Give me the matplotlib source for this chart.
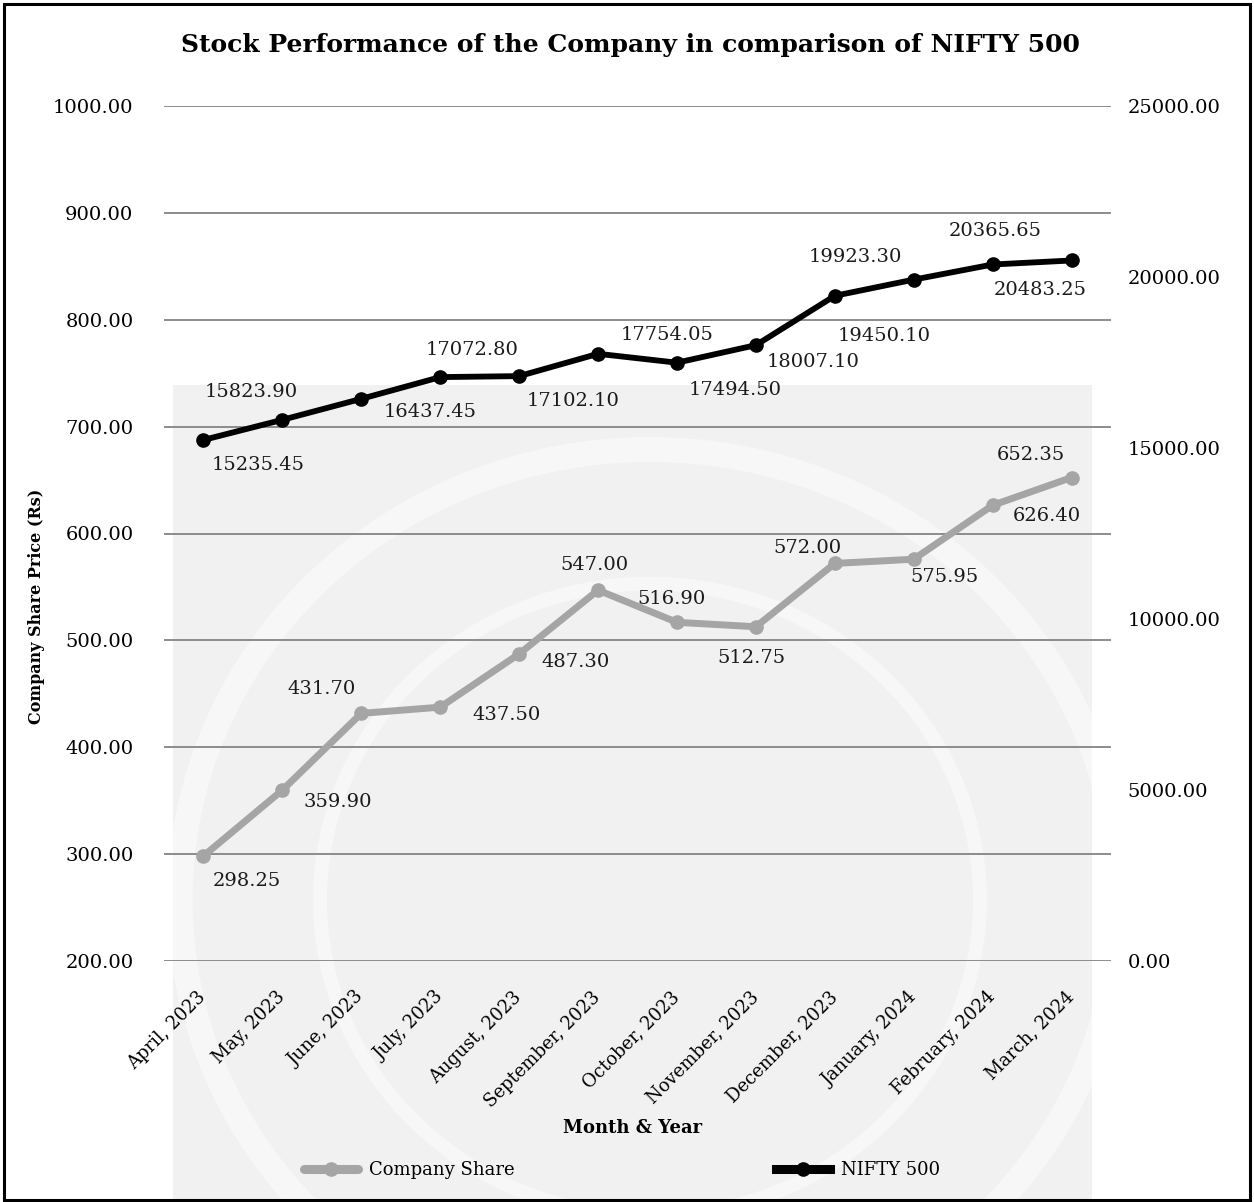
import matplotlib
matplotlib.use("Agg")
import matplotlib.pyplot as plt
from matplotlib.patches import Rectangle, Circle

months = ["April, 2023", "May, 2023", "June, 2023", "July, 2023", "August, 2023",
          "September, 2023", "October, 2023", "November, 2023", "December, 2023",
          "January, 2024", "February, 2024", "March, 2024"]
company = [298.25, 359.90, 431.70, 437.50, 487.30, 547.00, 516.90, 512.75,
           572.00, 575.95, 626.40, 652.35]
nifty = [15235.45, 15823.90, 16437.45, 17072.80, 17102.10, 17754.05, 17494.50,
         18007.10, 19450.10, 19923.30, 20365.65, 20483.25]
left_ticks = [200, 300, 400, 500, 600, 700, 800, 900, 1000]
right_ticks = [0, 5000, 10000, 15000, 20000, 25000]

# label offsets in pixels (dx right, dy up)
comp_off = [(43, -25), (55, -12), (-40, 24), (66, -8), (56, -8), (-4, 25),
            (-5, 23), (-4, -31), (-27, 15), (31, -18), (54, -11), (-41, 23)]
nifty_off = [(55, -25), (-31, 28), (69, -13), (32, 27), (54, -25), (69, 19),
             (58, -27), (57, -17), (49, -40), (-58, 23), (3, 33), (-31, -30)]

FONT = "DejaVu Serif"
plt.rcParams["font.family"] = FONT

W, H = 1254, 1202
fig = plt.figure(figsize=(W / 100, H / 100), dpi=100)

# background panel with watermark
bg = Rectangle((173 / W, 0), (1092 - 173) / W, (1202 - 385) / H,
               transform=fig.transFigure, facecolor="#f1f1f1", edgecolor="none", zorder=-3)
fig.patches.append(bg)
for (cx, cy, r, lw) in [(650, 900, 470, 18), (650, 900, 330, 10)]:
    ring = Circle((cx / W, 1 - cy / H), r / W, transform=fig.transFigure,
                  facecolor="none", edgecolor="white", linewidth=lw, alpha=0.45, zorder=-2)
    ring.set_clip_path(bg)
    fig.patches.append(ring)
# border
fig.patches.append(Rectangle((4 / W, 2 / H), (W - 8) / W, (H - 6) / H,
                             transform=fig.transFigure, facecolor="none",
                             edgecolor="black", linewidth=2.2, zorder=10))

ax = fig.add_axes([164 / W, 1 - 961 / H, (1111 - 164) / W, (961 - 106) / H])
ax.set_facecolor("none")
ax.set_zorder(1)
ax2 = ax.twinx()
ax2.set_zorder(2)
ax2.set_facecolor("none")

x = list(range(len(months)))
ax.set_xlim(-0.5, len(months) - 0.5)
ax.set_ylim(200, 1000)
ax2.set_ylim(0, 25000)
ax.set_yticks(left_ticks)
ax.set_yticklabels([f"{v:.2f}" for v in left_ticks])
ax2.set_yticks(right_ticks)
ax2.set_yticklabels([f"{v:.2f}" for v in right_ticks])
ax.grid(axis="y", color="#8c8c8c", linewidth=1.4)
ax.set_axisbelow(True)
for a in (ax, ax2):
    for s in a.spines.values():
        s.set_visible(False)
    a.tick_params(length=0, labelsize=14)
ax.tick_params(axis="y", pad=22)
ax2.tick_params(axis="y", pad=12)

ax.set_xticks(x)
ax.set_xticklabels(months, rotation=45, ha="right", va="center",
                   rotation_mode="anchor", fontsize=13)
ax.tick_params(axis="x", pad=24)

lc, = ax.plot(x, company, color="#a5a5a5", linewidth=5.0, marker="o", markersize=9.5,
              label="Company Share", zorder=3, solid_capstyle="round")
ln, = ax2.plot(x, nifty, color="black", linewidth=4.2, marker="o", markersize=9.5,
               label="NIFTY 500", zorder=3)

for i, v in enumerate(company):
    ax.annotate(f"{v:.2f}", (x[i], v), xytext=comp_off[i], textcoords="offset pixels",
                ha="center", va="center", fontsize=14, color="#1a1a1a")
for i, v in enumerate(nifty):
    ax2.annotate(f"{v:.2f}", (x[i], v), xytext=nifty_off[i], textcoords="offset pixels",
                 ha="center", va="center", fontsize=14, color="#1a1a1a")

fig.text(630 / W, 1 - 45 / H, "Stock Performance of the Company in comparison of NIFTY 500",
         ha="center", va="center", fontsize=18, fontweight="bold")
fig.text(37 / W, 1 - 606 / H, "Company Share Price (Rs)", rotation=90, ha="center",
         va="center", fontsize=11.5, fontweight="bold")
fig.text(633 / W, 1 - 1128 / H, "Month & Year", ha="center", va="center",
         fontsize=13, fontweight="bold")

leg = fig.legend(handles=[lc, ln], loc="center", bbox_to_anchor=(622 / W, 1 - 1170 / H),
                 ncol=2, frameon=False, fontsize=13, columnspacing=14.5, handlelength=3.0,
                 handletextpad=0.6)
for h in leg.legend_handles:
    h.set_linewidth(6.5)

fig.savefig("out.png", dpi=100)
